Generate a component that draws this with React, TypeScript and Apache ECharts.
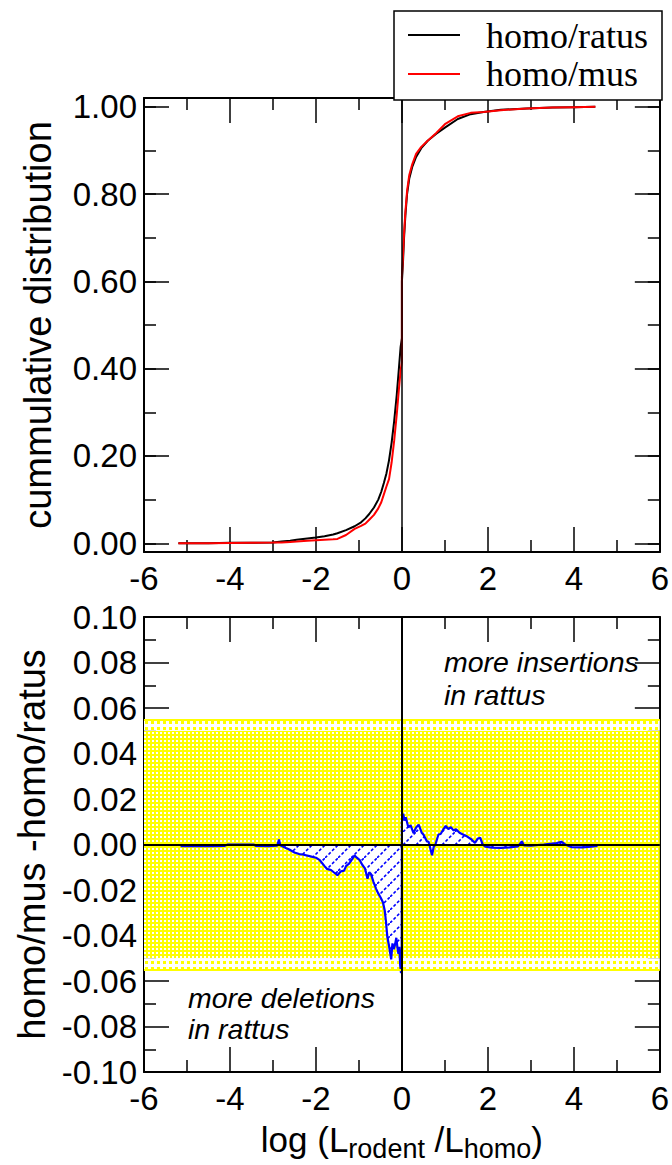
import React, { useEffect, useRef } from "react";
import * as echarts from "echarts";

const SANS = "'Liberation Sans', Arial, Helvetica, sans-serif";
const SERIF = "'Liberation Serif', 'Times New Roman', serif";

// axis ranges
const X_MIN = -6;
const X_MAX = 6;
const X_STEP = 2;
const CDF_MIN = -0.02;
const CDF_MAX = 1.02;
const DIFF_MIN = -0.1;
const DIFF_MAX = 0.1;
const DIFF_STEP = 0.02;

const seriesNames = ["homo/ratus", "homo/mus"];
const seriesColors = ["#000000", "#ff0000"];
const yTitles = ["cummulative distribution", "homo/mus -homo/ratus"];

// top panel: cumulative distributions
const cdfX = [-5.2, -4.5, -4.0, -3.5, -3.0, -2.8, -2.6, -2.45, -2.2, -2.0, -1.8, -1.6, -1.5, -1.3, -1.1, -0.95, -0.85, -0.76, -0.65, -0.55, -0.48, -0.42, -0.36, -0.3, -0.24, -0.18, -0.12, -0.07, -0.03, 0, 0, 0.023, 0.05, 0.08, 0.12, 0.17, 0.24, 0.33, 0.45, 0.6, 0.8, 1.0, 1.3, 1.6, 1.9, 2.3, 2.9, 3.5, 4.0, 4.5];
const ratusCdf = [0, 0, 0.001, 0.001, 0.002, 0.004, 0.006, 0.008, 0.011, 0.013, 0.016, 0.02, 0.023, 0.03, 0.039, 0.048, 0.057, 0.067, 0.082, 0.1, 0.118, 0.138, 0.16, 0.19, 0.23, 0.28, 0.34, 0.4, 0.45, 0.47, 0.6, 0.64, 0.7, 0.75, 0.8, 0.835, 0.862, 0.885, 0.905, 0.922, 0.938, 0.952, 0.972, 0.983, 0.988, 0.993, 0.996, 0.998, 0.999, 1.0];
const musCdf = [0, 0, 0.0005, 0.001, 0.0015, 0.002, 0.003, 0.004, 0.006, 0.007, 0.008, 0.009, 0.01, 0.019, 0.033, 0.04, 0.045, 0.054, 0.065, 0.08, 0.094, 0.112, 0.13, 0.147, 0.185, 0.235, 0.295, 0.353, 0.396, 0.415, 0.61, 0.653, 0.71, 0.758, 0.807, 0.843, 0.868, 0.892, 0.908, 0.922, 0.94, 0.96, 0.978, 0.986, 0.988, 0.992, 0.996, 0.998, 0.999, 1.0];

// bottom panel: difference homo/mus - homo/ratus
const diffX = [-5.15, -4.8, -4.4, -4.12, -4.05, -3.45, -3.4, -3.1, -2.9, -2.86, -2.83, -2.7, -2.62, -2.5, -2.39, -2.31, -2.15, -2.0, -1.91, -1.8, -1.745, -1.65, -1.585, -1.5, -1.42, -1.345, -1.3, -1.23, -1.15, -1.1, -1.05, -0.98, -0.92, -0.86, -0.8, -0.76, -0.72, -0.66, -0.6, -0.55, -0.49, -0.44, -0.4, -0.37, -0.34, -0.3, -0.27, -0.25, -0.22, -0.19, -0.16, -0.13, -0.1, -0.08, -0.06, -0.04, -0.02, -0.005, 0, 0.03, 0.06, 0.09, 0.15, 0.2, 0.27, 0.33, 0.39, 0.46, 0.5, 0.58, 0.62, 0.66, 0.7, 0.74, 0.78, 0.85, 0.9, 0.96, 1.02, 1.08, 1.14, 1.2, 1.26, 1.34, 1.42, 1.52, 1.62, 1.7, 1.76, 1.82, 1.88, 1.95, 2.1, 2.3, 2.5, 2.7, 2.79, 2.84, 3.0, 3.3, 3.6, 3.71, 3.8, 3.95, 4.2, 4.4, 4.55];
const diffY = [-0.0007, -0.0006, -0.0007, -0.0006, 0, 0, -0.0006, -0.0007, -0.0005, 0.0022, -0.0003, -0.0015, -0.0022, -0.0035, -0.0042, -0.0044, -0.0051, -0.0058, -0.0069, -0.0095, -0.0107, -0.0112, -0.0122, -0.0135, -0.0118, -0.0115, -0.0095, -0.0084, -0.0062, -0.0048, -0.0058, -0.0069, -0.009, -0.0105, -0.015, -0.0122, -0.013, -0.0165, -0.0195, -0.0215, -0.0235, -0.0255, -0.029, -0.034, -0.0405, -0.0445, -0.048, -0.0505, -0.0435, -0.046, -0.044, -0.041, -0.046, -0.048, -0.045, -0.053, -0.0565, -0.052, 0.01, 0.0135, 0.0105, 0.012, 0.0075, 0.0085, 0.005, 0.0075, 0.0087, 0.0052, 0.0044, 0.0014, 0.0012, -0.0016, -0.0047, -0.001, 0, 0.0044, 0.0046, 0.0065, 0.0082, 0.0068, 0.0076, 0.0062, 0.0067, 0.0052, 0.0044, 0.0035, 0.0022, 0.0007, 0.0025, 0.003, 0, -0.001, -0.0014, -0.0015, -0.0013, -0.0008, 0.0014, -0.0004, -0.0005, 0, 0.0006, 0.0012, 0, -0.0012, -0.0013, -0.001, -0.0006];

// yellow significance band: inner edge, outer edge
const bandEdges = [0.05, 0.055];

const insertNote = ["more insertions", "in rattus"];
const deleteNote = ["more deletions", "in rattus"];

function makeCanvas(w: number, h: number, draw: (ctx: CanvasRenderingContext2D) => void) {
  const c = document.createElement("canvas");
  c.width = w;
  c.height = h;
  const ctx = c.getContext("2d")!;
  draw(ctx);
  return c;
}

const fmt = (v: number) => (Math.abs(v) < 1e-9 ? "0.00" : v.toFixed(2));
const tickLine = { color: "#000", width: 1.5 };
const TICK_FONT = 33;

function xAxis(grid: number, position: string, labels: boolean, extra: any = {}) {
  return {
    type: "value",
    gridIndex: grid,
    position,
    min: X_MIN,
    max: X_MAX,
    interval: X_STEP,
    axisLine: { show: true, onZero: false, lineStyle: { color: "#000", width: 2 } },
    axisTick: { show: true, inside: true, length: 25, lineStyle: tickLine },
    minorTick: { show: true, splitNumber: 2, length: 12, lineStyle: tickLine },
    splitLine: { show: false },
    minorSplitLine: { show: false },
    axisLabel: { show: labels, fontSize: TICK_FONT, fontFamily: SANS, color: "#000", margin: 10 },
    ...extra,
  };
}

function yAxisBase(grid: number, position: string) {
  return {
    type: "value",
    gridIndex: grid,
    position,
    axisLine: { show: true, onZero: false, lineStyle: { color: "#000", width: 2 } },
    splitLine: { show: false },
    minorSplitLine: { show: false },
  };
}

const yNameStyle = { fontSize: 38, fontFamily: SANS, color: "#000" };

export default function App() {
  const ref = useRef<HTMLDivElement>(null);
  useEffect(() => {
    if (!ref.current) return;
    const chart = echarts.init(ref.current, undefined, { renderer: "svg" });

    const dense = makeCanvas(4, 4, (ctx) => {
      ctx.fillStyle = "#ffff00";
      ctx.fillRect(0, 0, 4, 4);
      ctx.fillStyle = "#ffffff";
      ctx.fillRect(0, 0, 2, 2);
    });
    const sparse = makeCanvas(6, 6, (ctx) => {
      ctx.fillStyle = "#ffffff";
      ctx.fillRect(0, 0, 6, 6);
      ctx.fillStyle = "#ffff00";
      ctx.fillRect(1, 1, 3, 3);
    });
    const hatch = makeCanvas(13, 13, (ctx) => {
      ctx.fillStyle = "#ffffff";
      ctx.fillRect(0, 0, 13, 13);
      ctx.strokeStyle = "#0000ff";
      ctx.lineWidth = 1.6;
      ctx.setLineDash([3, 2]);
      ctx.beginPath();
      ctx.moveTo(0, 13);
      ctx.lineTo(13, 0);
      ctx.stroke();
    });
    const pat = (img: HTMLCanvasElement) => ({ image: img, repeat: "repeat", imageWidth: img.width, imageHeight: img.height });

    const minorY = (grid: number, position: string) => ({
      ...yAxisBase(grid, position),
      min: CDF_MIN,
      max: CDF_MAX,
      splitNumber: 10,
      axisLine: { show: false, onZero: false },
      axisTick: { show: true, inside: true, length: 12, lineStyle: tickLine },
      axisLabel: { show: false },
    });
    const majorCdfY = (position: string, labels: boolean, extra: any = {}) => ({
      ...yAxisBase(0, position),
      min: CDF_MIN,
      max: CDF_MAX,
      splitNumber: 5,
      axisTick: { show: true, inside: true, length: 25, lineStyle: tickLine },
      axisLabel: {
        show: labels,
        showMinLabel: false,
        showMaxLabel: false,
        formatter: fmt,
        fontSize: TICK_FONT,
        fontFamily: SANS,
        color: "#000",
        margin: 7,
      },
      ...extra,
    });
    const diffYAxis = (position: string, labels: boolean, extra: any = {}) => ({
      ...yAxisBase(1, position),
      min: DIFF_MIN,
      max: DIFF_MAX,
      interval: DIFF_STEP,
      axisTick: { show: true, inside: true, length: 25, lineStyle: tickLine },
      minorTick: { show: true, splitNumber: 2, length: 12, lineStyle: tickLine },
      axisLabel: { show: labels, formatter: fmt, fontSize: TICK_FONT, fontFamily: SANS, color: "#000", margin: 7 },
      ...extra,
    });

    const [inner, outer] = bandEdges;
    const solid = (color: string) => ({ color, width: 2, type: "solid" });
    const option: any = {
      animation: false,
      backgroundColor: "#ffffff",
      grid: [
        { left: 144, top: 98, width: 518, height: 454 },
        { left: 144, top: 617, width: 518, height: 455 },
      ],
      xAxis: [
        xAxis(0, "bottom", true),
        xAxis(0, "top", false),
        xAxis(1, "bottom", true, {
          name: "{m|log (L}{s|rodent}{m| /L}{s|homo}{m|)}",
          nameLocation: "middle",
          nameGap: 46,
          nameTextStyle: {
            rich: {
              m: { fontSize: 35, fontFamily: SANS, color: "#000", lineHeight: 40 },
              s: { fontSize: 27, fontFamily: SANS, color: "#000", padding: [20, 0, 0, 0], lineHeight: 40 },
            },
          },
        }),
        xAxis(1, "top", false),
      ],
      yAxis: [
        majorCdfY("left", true, {
          name: yTitles[0],
          nameLocation: "middle",
          nameGap: 87,
          nameTextStyle: yNameStyle,
        }),
        minorY(0, "left"),
        majorCdfY("right", false),
        minorY(0, "right"),
        diffYAxis("left", true, {
          name: yTitles[1],
          nameLocation: "middle",
          nameGap: 87,
          nameTextStyle: yNameStyle,
        }),
        diffYAxis("right", false),
      ],
      series: [
        {
          name: seriesNames[0],
          type: "line",
          xAxisIndex: 0,
          yAxisIndex: 0,
          data: cdfX.map((x, i) => [x, ratusCdf[i]]),
          symbol: "none",
          lineStyle: { color: seriesColors[0], width: 2 },
          z: 3,
          markLine: {
            silent: true,
            precision: 4,
            symbol: ["none", "none"],
            label: { show: false },
            lineStyle: { color: "#000", width: 1.5, type: "solid" },
            data: [{ xAxis: 0 }],
          },
        },
        {
          name: seriesNames[1],
          type: "line",
          xAxisIndex: 0,
          yAxisIndex: 0,
          data: cdfX.map((x, i) => [x, musCdf[i]]),
          symbol: "none",
          lineStyle: { color: seriesColors[1], width: 2 },
          z: 4,
        },
        {
          name: "homo/mus - homo/ratus",
          type: "line",
          xAxisIndex: 2,
          yAxisIndex: 4,
          data: diffX.map((x, i) => [x, diffY[i]]),
          symbol: "none",
          lineStyle: { color: "#0000ff", width: 2.2 },
          areaStyle: { color: pat(hatch), opacity: 1 },
          z: 3,
          markArea: {
            silent: true,
            label: { show: false },
            data: [
              [{ yAxis: -inner, itemStyle: { color: pat(dense) } }, { yAxis: inner }],
              [{ yAxis: inner, itemStyle: { color: pat(sparse) } }, { yAxis: outer }],
              [{ yAxis: -outer, itemStyle: { color: pat(sparse) } }, { yAxis: -inner }],
            ],
          },
          markLine: {
            silent: true,
            precision: 4,
            symbol: ["none", "none"],
            label: { show: false },
            data: [
              { yAxis: outer, lineStyle: solid("#ffff00") },
              { yAxis: -outer, lineStyle: solid("#ffff00") },
              { yAxis: 0, lineStyle: solid("#000") },
              { xAxis: 0, lineStyle: solid("#000") },
            ],
          },
        },
      ],
      graphic: [
        {
          type: "rect",
          z: 100,
          shape: { x: 394, y: 11, width: 268, height: 89 },
          style: { fill: "#fff", stroke: "#000", lineWidth: 1.5 },
        },
        {
          type: "line",
          z: 101,
          shape: { x1: 408, y1: 35, x2: 460, y2: 35 },
          style: { stroke: seriesColors[0], lineWidth: 2 },
        },
        {
          type: "line",
          z: 101,
          shape: { x1: 408, y1: 74, x2: 460, y2: 74 },
          style: { stroke: seriesColors[1], lineWidth: 2 },
        },
        ...seriesNames.map((n, i) => ({
          type: "text",
          z: 101,
          x: 486,
          y: i === 0 ? 36 : 74,
          style: {
            text: n,
            fontSize: 36,
            fontFamily: SERIF,
            fill: "#000",
            align: "left",
            textAlign: "left",
            verticalAlign: "middle",
            textVerticalAlign: "middle",
          },
        })),
        ...insertNote.map((t, i) => ({
          type: "text",
          z: 50,
          x: 444,
          y: i === 0 ? 662 : 695,
          style: {
            text: t,
            fontSize: 28.5,
            fontStyle: "italic",
            fontFamily: SANS,
            fill: "#000",
            align: "left",
            textAlign: "left",
            verticalAlign: "middle",
            textVerticalAlign: "middle",
          },
        })),
        ...deleteNote.map((t, i) => ({
          type: "text",
          z: 50,
          x: 188,
          y: i === 0 ? 998 : 1029,
          style: {
            text: t,
            fontSize: 28.5,
            fontStyle: "italic",
            fontFamily: SANS,
            fill: "#000",
            align: "left",
            textAlign: "left",
            verticalAlign: "middle",
            textVerticalAlign: "middle",
          },
        })),
      ],
    };
    chart.setOption(option);
    return () => chart.dispose();
  }, []);
  return (
    <div
      ref={ref}
      style={{ position: "absolute", left: 0, top: 0, width: 672, height: 1165, background: "#fff" }}
    />
  );
}
